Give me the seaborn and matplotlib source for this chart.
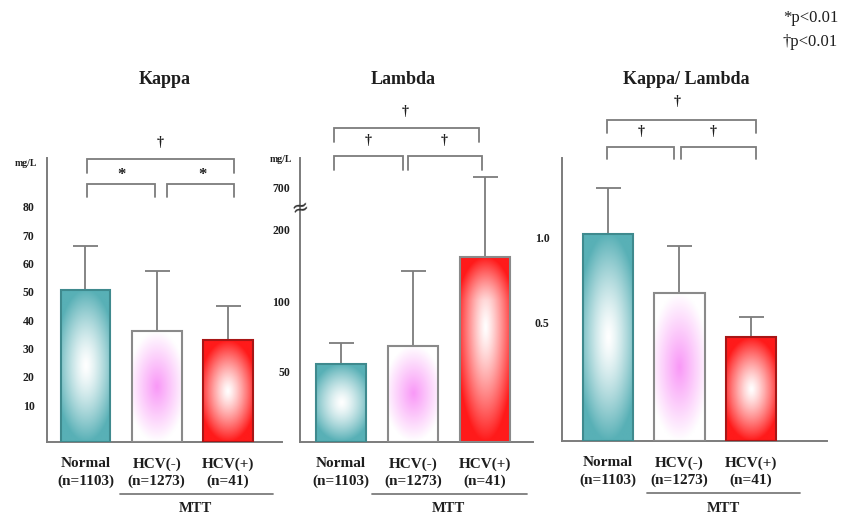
import numpy as np
import matplotlib
matplotlib.use("Agg")
import matplotlib.pyplot as plt
import pandas as pd
import seaborn as sns

# ---------------- data ----------------
groups = ["Normal\n(n=1103)", "HCV(-)\n(n=1273)", "HCV(+)\n(n=41)"]
kappa_mean = [50.7, 36.2, 33.0]
kappa_upper = [66.3, 57.4, 45.0]
lambda_mean = [55, 68, 162]
lambda_upper = [70, 142, 810]
ratio_mean = [1.02, 0.67, 0.41]
ratio_upper = [1.29, 0.95, 0.53]

kappa_ticks = [10, 20, 30, 40, 50, 60, 70, 80]
lambda_ticks = [50, 100, 200, 700]
ratio_ticks = [0.5, 1.0]
kappa_ticklabels = ["10", "20", "30", "40", "50", "60", "70", "80"]
lambda_ticklabels = ["50", "100", "200", "700"]
ratio_ticklabels = ["0.5", "1.0"]

panel_titles = ["Kappa", "Lambda", "Kappa/ Lambda"]
unit_label = "mg/L"
subgroup_label = "MTT"
kappa_sig = ["\u2020", "*", "*"]
lambda_sig = ["\u2020", "\u2020", "\u2020"]
ratio_sig = ["\u2020", "\u2020", "\u2020"]
legend_lines = ["*p<0.01", "\u2020p<0.01"]

# piecewise (broken) scale for the Lambda axis
lambda_break_vals = [0, 50, 100, 200, 700, 1000]
lambda_break_pos = [0, 71, 141, 212, 254, 284]

# ---------------- style ----------------
sns.set_style("white")
plt.rcParams["font.family"] = ["Liberation Serif", "DejaVu Serif"]
SERIF = ["Liberation Serif", "DejaVu Serif"]
GREY = "#7c7c7c"
TXT = "#1e1e1e"

teal = np.array([88, 176, 182]) / 255
pink = np.array([249, 152, 247]) / 255
red = np.array([255, 26, 26]) / 255
white = np.array([1.0, 1.0, 1.0])
grad_specs = [(white, teal, 1.35, 0.8), (pink, white, 1.0, 0.85), (white, red, 1.25, 0.85)]


def grad_img(inner, outer, power, sx, n=(200, 60)):
    yy, xx = np.mgrid[0:1:n[0] * 1j, 0:1:n[1] * 1j]
    r = np.sqrt(((xx - 0.5) / 0.5 * sx) ** 2 + ((yy - 0.5) / 0.5) ** 2)
    t = np.clip(r, 0, 1) ** power
    return inner * (1 - t)[..., None] + outer * t[..., None]


W, H = 845, 515
fig = plt.figure(figsize=(W / 100, H / 100), dpi=100)


def px_axes(left, right, bottom, top):
    return fig.add_axes([left / W, (H - bottom) / H, (right - left) / W, (bottom - top) / H])


def draw_panel(ax, means, uppers, ticks, ticklabels, ylim, base, xlim, edgecols):
    df = pd.DataFrame({"group": groups, "value": means})
    sns.barplot(data=df, x="group", y="value", hue="group", order=groups,
                hue_order=groups, palette=["white"] * 3, legend=False,
                errorbar=None, width=0.7, ax=ax)
    ax.set_ylim(*ylim)
    ax.set_xlim(*xlim)
    patches = sorted(ax.patches, key=lambda p: p.get_x())
    for p, (inner, outer, pw, sx), ec in zip(patches, grad_specs, edgecols):
        v = p.get_y() + p.get_height()
        p.set_y(base)
        p.set_height(v - base)
        p.set_facecolor("none")
        p.set_edgecolor(ec)
        p.set_linewidth(1.5)
        p.set_zorder(3)
        img = grad_img(inner, outer, pw, sx)
        im = ax.imshow(img, origin="lower", aspect="auto", zorder=2,
                       extent=[p.get_x(), p.get_x() + p.get_width(), base, v],
                       interpolation="bilinear")
        im.set_clip_path(p)
    ax.set_ylim(*ylim)
    ax.set_xlim(*xlim)
    m = np.array(means, float)
    u = np.array(uppers, float)
    ax.errorbar(np.arange(3), m, yerr=[np.zeros(3), u - m], fmt="none",
                ecolor=GREY, elinewidth=1.3, capsize=9, capthick=1.3, zorder=1)
    ax.set_yticks(ticks)
    ax.set_yticklabels(ticklabels, fontsize=8.5, fontweight="bold", color=TXT)
    ax.set_xticks(range(3))
    ax.set_xticklabels(groups, fontsize=11, fontweight="bold", color=TXT, linespacing=1.38)
    ax.tick_params(axis="x", length=0, pad=11)
    ax.tick_params(axis="y", length=0, pad=9)
    ax.set_xlabel("")
    ax.set_ylabel("")
    for s in ["top", "right"]:
        ax.spines[s].set_visible(False)
    for s in ["left", "bottom"]:
        ax.spines[s].set_color(GREY)
        ax.spines[s].set_linewidth(1.4)
    ax.grid(False)


def bracket(ax, x0, x1, ytop, yleg, sym, sx, sy, fs):
    tr = ax.get_xaxis_transform()
    ax.plot([x0, x0, x1, x1], [yleg, ytop, ytop, yleg], transform=tr,
            clip_on=False, color=GREY, lw=1.3, solid_joinstyle="miter")
    ax.text(sx, sy, sym, transform=tr, ha="center", va="center", fontsize=fs,
            fontweight="bold", color=TXT, family=SERIF)


def subgroup(ax, x0, x1, xm, yline, ytext):
    tr = ax.get_xaxis_transform()
    ax.plot([x0, x1], [yline, yline], transform=tr, clip_on=False, color=GREY, lw=1.3)
    ax.text(xm, ytext, subgroup_label, transform=tr, ha="center", va="center",
            fontsize=10.5, fontweight="bold", color=TXT)


# ---------- Kappa ----------
ax1 = px_axes(47, 282, 442, 158)
draw_panel(ax1, kappa_mean, kappa_upper, kappa_ticks, kappa_ticklabels,
           (-3.0, 97.3), -3.0, (-0.54, 2.76), ["#3f8a8e", "#8a8a8a", "#a81616"])
bracket(ax1, 0.02, 2.09, 0.996, 0.947, kappa_sig[0], 1.05, 1.053, 10)
bracket(ax1, 0.02, 0.98, 0.908, 0.863, kappa_sig[1], 0.50, 0.940, 12)
bracket(ax1, 1.14, 2.09, 0.908, 0.863, kappa_sig[2], 1.65, 0.940, 12)
ax1.annotate(unit_label, xy=(0, 0.979), xycoords="axes fraction", xytext=(-15, 0),
             textcoords="offset points", ha="center", va="center", fontsize=7,
             fontweight="bold", color=TXT)
subgroup(ax1, 0.48, 2.63, 1.54, -0.183, -0.234)

# ---------- Lambda ----------
ax2 = px_axes(300, 533, 442, 158)


def lam_fwd(v):
    return np.interp(v, lambda_break_vals, lambda_break_pos)


def lam_inv(p):
    return np.interp(p, lambda_break_pos, lambda_break_vals)


ax2.set_yscale("function", functions=(lam_fwd, lam_inv))
draw_panel(ax2, lambda_mean, lambda_upper, lambda_ticks, lambda_ticklabels,
           (0, 1000), 0, (-0.57, 2.67), ["#3f8a8e", "#8a8a8a", "#8a8a8a"])
ax2.tick_params(axis="y", pad=7)
bracket(ax2, -0.10, 1.92, 1.106, 1.056, lambda_sig[0], 0.89, 1.162, 10)
bracket(ax2, -0.10, 0.86, 1.007, 0.958, lambda_sig[1], 0.375, 1.063, 10)
bracket(ax2, 0.93, 1.96, 1.007, 0.958, lambda_sig[2], 1.44, 1.063, 10)
ax2.annotate(unit_label, xy=(0, 0.993), xycoords="axes fraction", xytext=(-14, 0),
             textcoords="offset points", ha="center", va="center", fontsize=7,
             fontweight="bold", color=TXT)
ax2.text(0, 0.827, "\u2248", transform=ax2.transAxes, ha="center", va="center",
         fontsize=15, color="#333333", rotation=15, family=["DejaVu Sans"])
subgroup(ax2, 0.43, 2.58, 1.49, -0.183, -0.234)

# ---------- Kappa / Lambda ----------
ax3 = px_axes(562, 827, 441, 158)
draw_panel(ax3, ratio_mean, ratio_upper, ratio_ticks, ratio_ticklabels,
           (-0.2, 1.465), -0.2, (-0.64, 3.06), ["#3f8a8e", "#8a8a8a", "#a81616"])
bracket(ax3, -0.01, 2.07, 1.134, 1.088, ratio_sig[0], 0.97, 1.198, 10)
bracket(ax3, -0.01, 0.92, 1.039, 0.996, ratio_sig[1], 0.46, 1.095, 10)
bracket(ax3, 1.02, 2.07, 1.039, 0.996, ratio_sig[2], 1.47, 1.095, 10)
subgroup(ax3, 0.55, 2.69, 1.61, -0.184, -0.237)

# ---------- titles & legend ----------
for title, xc in zip(panel_titles, [165, 403, 686]):
    fig.text(xc / W, 1 - 80 / H, title, ha="center", va="center", fontsize=13,
             fontweight="bold", color=TXT)
for line, yc in zip(legend_lines, [18, 42]):
    fig.text(838 / W, 1 - yc / H, line, ha="right", va="center", fontsize=12,
             color=TXT)

fig.savefig("out.png", dpi=100)
